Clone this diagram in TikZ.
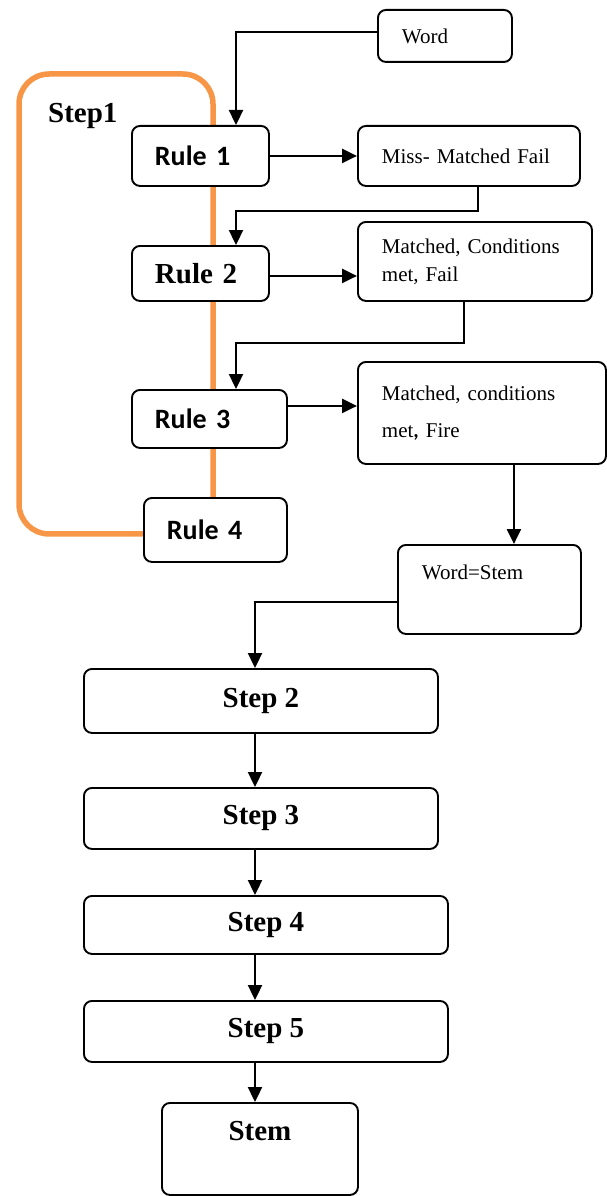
\documentclass[tikz,border=0pt]{standalone}
\usepackage{fontspec}
\setmainfont{Liberation Serif}
\newfontfamily\calibri{Carlito}
\usepackage{xcolor}
\usepackage{tikz}
\usetikzlibrary{arrows.meta,calc,backgrounds}
\definecolor{orange1}{HTML}{F79646}

\begin{document}
\begin{tikzpicture}[
  x=1pt, y=-1pt,
  box/.style={draw, line width=1.9pt, rounded corners=8pt, fill=white, anchor=north west, inner ysep=0pt},
  note/.style={box, align=left, inner xsep=24pt, font=\fontsize{21}{28}\selectfont},
  rulebox/.style={box, align=left, inner xsep=23pt, font=\calibri\bfseries\fontsize{28}{30}\selectfont},
  stepbox/.style={box, inner xsep=0pt, font=\bfseries\fontsize{29}{32}\selectfont},
  arr/.style={-{Triangle[length=15pt,width=14pt]}, line width=2.3pt},
  frame/.style={draw=orange1, line width=5.5pt, rounded corners=30pt},
]
\useasboundingbox (0,0) rectangle (607,1196);
\node[note, text width=86pt, minimum height=52pt] (w) at (377,9) {Word};
\node[anchor=base west, inner sep=0pt, font=\bfseries\fontsize{29}{32}\selectfont] (s1) at (48,123) {Step1};
\node[rulebox, text width=91pt, minimum height=60pt] (r1) at (131,125) {Rule 1};
\node[note, text width=174pt, minimum height=60pt] (o1) at (357,125) {Miss- Matched Fail};
\node[rulebox, text width=91pt, minimum height=55pt, font=\bfseries\fontsize{29}{32}\selectfont] (r2) at (131,245) {Rule 2};
\node[note, text width=186pt, minimum height=79pt] (o2) at (357,221) {Matched, Conditions\\met, Fail};
\node[rulebox, text width=109pt, minimum height=58pt] (r3) at (131,389) {Rule 3};
\node[note, text width=200pt, minimum height=102pt, font=\fontsize{21}{37}\selectfont] (o3) at (357,361) {Matched, conditions\\met{\calibri\bfseries,} Fire};
\node[rulebox, text width=97pt, minimum height=64pt] (r4) at (143,497) {Rule 4};
\node[note, text width=135pt, text height=35pt, text depth=54pt] (ws) at (397,544) {Word=Stem};
\node[stepbox, minimum width=354pt, minimum height=64pt] (s2) at (83,668) {Step 2};
\node[stepbox, minimum width=354pt, minimum height=61pt] (s3) at (83,787) {Step 3};
\node[stepbox, minimum width=364pt, minimum height=58pt] (s4) at (83,895) {Step 4};
\node[stepbox, minimum width=364pt, minimum height=61pt] (s5) at (83,1000) {Step 5};
\node[stepbox, minimum width=196pt, text height=37.5pt, text depth=54.5pt] (st) at (161,1102) {Stem};
\coordinate (spine) at (255,0);
% step 1 frame
\begin{scope}[on background layer]
\draw[frame] ([yshift=-4pt]r4.west) -| (19,74) -| ([xshift=70pt]r4.north west);
\end{scope}
\draw[arr] ([yshift=4pt]w.west) -| ([xshift=105pt]r1.north west);
\draw[arr] (r1.east) -- (o1.west);
\draw[arr] ([xshift=9pt]o1.south) -- ++(0,24) -| ([xshift=105pt]r2.north west);
\draw[arr] ([yshift=-2.5pt]r2.east) -- ([yshift=-2.5pt]r2.east -| o2.west);
\draw[arr] ([xshift=-11pt]o2.south) -- ++(0,41) -| ([xshift=105pt]r3.north west);
\draw[arr] ([yshift=13pt]r3.east) -- ([yshift=13pt]r3.east -| o3.west);
\draw[arr] ([xshift=32pt]o3.south) -- ([xshift=32pt]o3.south |- ws.north);
\draw[arr] ([yshift=-12.5pt]ws.west) -| (s2.north -| spine);
\foreach \a/\b in {s2/s3,s3/s4,s4/s5,s5/st} \draw[arr] (\a.south -| spine) -- (\b.north -| spine);
\end{tikzpicture}
\end{document}
